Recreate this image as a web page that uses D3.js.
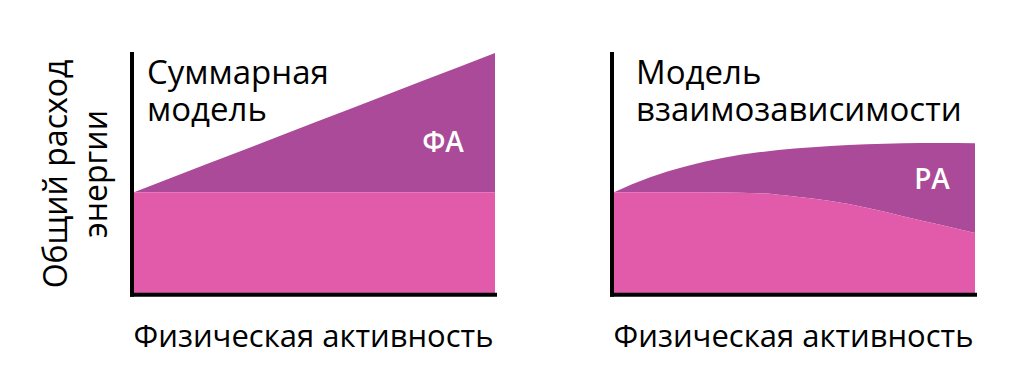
<!DOCTYPE html>
<html>
<head>
<meta charset="utf-8">
<script src="https://cdn.jsdelivr.net/npm/d3@7"></script>
<style>
  body { margin: 0; background: #fff; }
  text { font-family: "Open Sans", "Noto Sans", sans-serif; }
</style>
</head>
<body>
<svg id="chart" width="1024" height="392"></svg>
<script>
// activity steps (0..10) shared by both panels
const activity = [0, 1, 2, 3, 4, 5, 6, 7, 8, 9, 10];

// additive model: baseline energy + PA energy (total)
const sumBase  = [42, 42, 42, 42, 42, 42, 42, 42, 42, 42, 42];
const sumTotal = [42, 47.8, 53.6, 59.4, 65.2, 71, 76.8, 82.6, 88.4, 94.2, 100];

// constrained model
const conBase  = [42, 42, 42, 41.9, 41.6, 40.2, 38.3, 35.5, 32, 28.5, 25];
const conTotal = [42, 48.2, 52.8, 56.2, 58.6, 60.2, 61.3, 62, 62.4, 62.5, 62.4];

const panelTitles = [["Суммарная", "модель"], ["Модель", "взаимозависимости"]];
const areaLabels = ["ФА", "РА"];
const xTitle = "Физическая активность";
const yTitle = ["Общий расход", "энергии"];

const PINK = "#e25aaa";
const PURPLE = "#aa4a98";

const svg = d3.select("#chart");

const y = d3.scaleLinear().domain([0, 100]).range([293, 53]);

const panels = [
  { left: 134, right: 495, base: sumBase, total: sumTotal, curve: d3.curveLinear,
    title: panelTitles[0], titleX: 147, label: areaLabels[0], labelX: 443, labelY: 152 },
  { left: 614, right: 975, base: conBase, total: conTotal, curve: d3.curveMonotoneX,
    title: panelTitles[1], titleX: 636, label: areaLabels[1], labelX: 932, labelY: 189 }
];

panels.forEach(p => {
  const x = d3.scaleLinear().domain([0, 10]).range([p.left, p.right]);
  const pts = activity.map((a, i) => ({ a: a, base: p.base[i], total: p.total[i] }));

  // PA part (between base and total)
  svg.append("path")
    .datum(pts)
    .attr("fill", PURPLE)
    .attr("d", d3.area().curve(p.curve)
      .x(d => x(d.a)).y0(d => y(d.base)).y1(d => y(d.total)));

  // baseline part
  svg.append("path")
    .datum(pts)
    .attr("fill", PINK)
    .attr("d", d3.area().curve(p.curve)
      .x(d => x(d.a)).y0(y(0)).y1(d => y(d.base)));

  // axes
  svg.append("line")
    .attr("x1", p.left - 2).attr("x2", p.left - 2)
    .attr("y1", 52).attr("y2", y(0) + 3.7)
    .attr("stroke", "#000").attr("stroke-width", 4);
  svg.append("line")
    .attr("x1", p.left - 4).attr("x2", p.right + 2)
    .attr("y1", y(0) + 1.8).attr("y2", y(0) + 1.8)
    .attr("stroke", "#000").attr("stroke-width", 4);

  // panel title, two lines
  p.title.forEach((s, i) => {
    svg.append("text")
      .attr("x", p.titleX).attr("y", 84 + i * 37)
      .attr("font-size", 33).attr("fill", "#000")
      .text(s);
  });

  // area label
  svg.append("text")
    .attr("x", p.labelX).attr("y", p.labelY)
    .attr("text-anchor", "middle")
    .attr("font-size", 28).attr("font-weight", 600)
    .attr("fill", "#fff")
    .text(p.label);

  // x title
  svg.append("text")
    .attr("x", (p.left + p.right) / 2 - 1).attr("y", 347)
    .attr("text-anchor", "middle")
    .attr("font-size", 31).attr("fill", "#000")
    .text(xTitle);
});

// y title (rotated), two lines
yTitle.forEach((s, i) => {
  svg.append("text")
    .attr("transform", "translate(" + (67 + i * 40) + ",174) rotate(-90)")
    .attr("text-anchor", "middle")
    .attr("font-size", 32).attr("fill", "#000")
    .text(s);
});
</script>
</body>
</html>
